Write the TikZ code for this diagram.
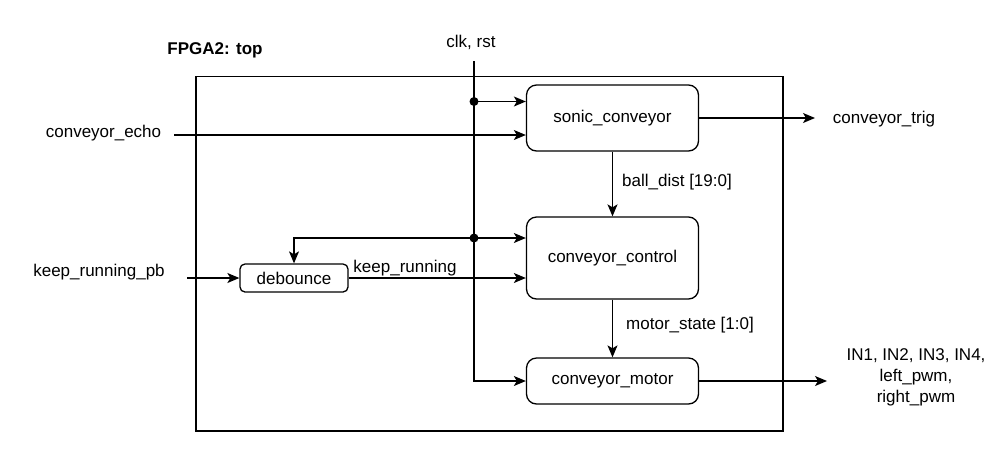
\documentclass[tikz,border=0pt]{standalone}
\usepackage{fontspec}
\setmainfont{Liberation Sans}
\usetikzlibrary{arrows.meta}
\begin{document}
\begin{tikzpicture}[x=1pt,y=-1pt,
  every node/.style={font=\fontsize{17}{21}\selectfont},
  arr/.style={line width=1.3pt,-{Stealth[length=12pt,width=10pt,inset=3pt]}},
  block/.style={draw,line width=1.3pt,rounded corners=10pt,minimum width=172pt,inner sep=0pt},
  lbl/.style={inner sep=0pt,anchor=center},
  dotc/.style={circle,fill=black,inner sep=0pt,minimum size=9pt}]
\useasboundingbox (0,0) rectangle (1000,456);
\node[draw,line width=1.3pt,minimum width=587pt,minimum height=354.5pt,inner sep=0pt] (fpga) at (489.5,253.8) {};
\node[lbl,font=\fontsize{17}{21}\selectfont\bfseries] (title) at (215,50) {FPGA2: top};

\node[block,minimum height=66pt] (sonic) at (612.5,118) {sonic\_conveyor};
\node[block,minimum height=82pt] (control) at (612.5,258) {conveyor\_control};
\node[block,minimum height=46pt] (motor) at (612.5,381) {conveyor\_motor};
\node[draw,line width=1.3pt,rounded corners=5pt,minimum width=108pt,minimum height=28pt,inner sep=0pt] (debounce) at (294,278) {debounce};

\node[lbl] (clklbl) at (471,42) {clk, rst};
\node[lbl] (echolbl) at (103.5,133) {conveyor\_echo};
\node[lbl] (pblbl) at (99,272) {keep\_running\_pb};
\node[lbl] (krlbl) at (405,268) {keep\_running};
\node[lbl] (balllbl) at (677,182) {ball\_dist [19:0]};
\node[lbl] (mslbl) at (690,325) {motor\_state [1:0]};
\node[lbl] (triglbl) at (884,119) {conveyor\_trig};
\node[lbl,align=center] (outlbl) at (916,377) {IN1, IN2, IN3, IN4,\\left\_pwm,\\right\_pwm};

\coordinate (clktop) at (474,61);
\node[dotc] (dot1) at (474,101.5) {};
\node[dotc] (dot2) at (474,238) {};
\coordinate (echostart) at (174,135);
\coordinate (pbstart) at (187,278);
\coordinate (trigend) at (815,118);
\coordinate (outend) at (827,381);

\draw[arr] (clktop) |- (motor.west);
\draw[arr] (dot1.center) -- (sonic.west |- dot1);
\draw[arr] (echostart) -- (sonic.west |- echostart);
\draw[arr] (sonic.east) -- (trigend);
\draw[arr] (sonic.south) -- (control.north);
\draw[arr] (dot2.center) -- (control.west |- dot2);
\draw[arr] (dot2.center) -| (debounce.north);
\draw[arr] (pbstart) -- (debounce.west);
\draw[arr] (debounce.east) -- (control.west |- debounce.east);
\draw[arr] (control.south) -- (motor.north);
\draw[arr] (motor.east) -- (outend);
\end{tikzpicture}
\end{document}
